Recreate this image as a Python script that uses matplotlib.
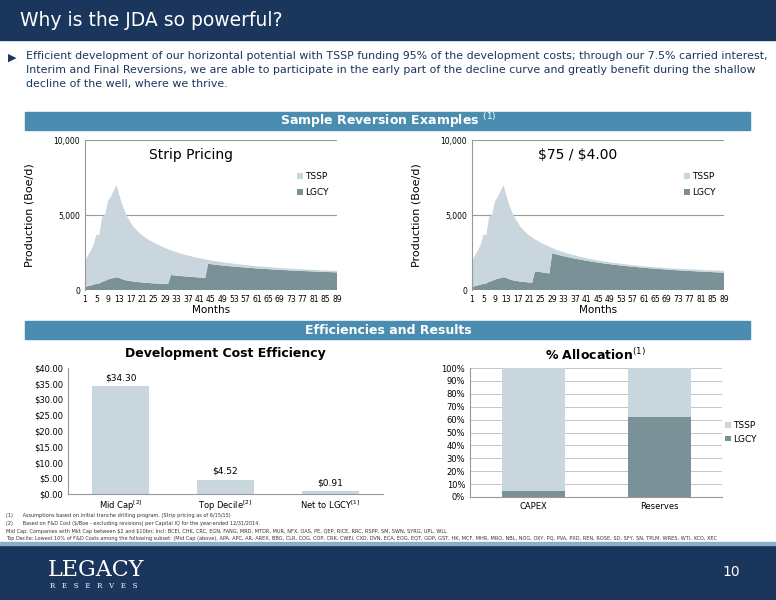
import numpy as np
import matplotlib.pyplot as plt
from matplotlib.patches import Rectangle

# Production profile (Boe/d), months 1..89
months = list(range(1, 90))
total_prod = [1900, 2300, 2600, 3000, 3700, 3650, 4900, 5000, 5900, 6200, 6600, 7000,
              6300, 5700, 5200, 4800, 4500, 4200, 4000, 3800,
              3650, 3500, 3380, 3270, 3160, 3060, 2970, 2880, 2800, 2720,
              2650, 2580, 2520, 2460, 2400, 2350, 2300, 2250, 2200, 2160,
              2120, 2080, 2040, 2000, 1970, 1940, 1910, 1880, 1850, 1820,
              1800, 1775, 1750, 1725, 1700, 1680, 1660, 1640, 1620, 1600,
              1585, 1570, 1555, 1540, 1525, 1510, 1495, 1480, 1465, 1450,
              1440, 1430, 1420, 1410, 1400, 1390, 1380, 1370, 1360, 1350,
              1340, 1330, 1320, 1312, 1305, 1298, 1290, 1283, 1275]
lgcy_early = [200, 250, 300, 350, 420, 430, 550, 600, 700, 750, 800, 850]
lgcy_strip = lgcy_early + [800, 720, 660, 620, 590, 560, 540, 520,
                           500, 485, 470, 455, 440, 430, 420, 410, 400, 390,
                           1000, 980, 960, 940, 925, 910, 895, 880, 865, 850, 835, 820, 805,
                           1750, 1725, 1700, 1678, 1656, 1635, 1615, 1596, 1578, 1560,
                           1543, 1527, 1511, 1496, 1481, 1467, 1453, 1440, 1427, 1414,
                           1402, 1390, 1378, 1367, 1356, 1345, 1335, 1325, 1315, 1305,
                           1296, 1287, 1278, 1269, 1260, 1252, 1244, 1236, 1228, 1220,
                           1212, 1205, 1198, 1191, 1184, 1177]
lgcy_75 = lgcy_early + [800, 720, 660, 620, 590, 560, 540, 520, 500, 480,
                        1250, 1220, 1190, 1160, 1130, 1100,
                        2450, 2400, 2350, 2300, 2255, 2210, 2170, 2130, 2090, 2055,
                        2020, 1985, 1952, 1920, 1890, 1860, 1830, 1802, 1775, 1750,
                        1725, 1700, 1677, 1655, 1633, 1612, 1592, 1572, 1553, 1535,
                        1517, 1500, 1483, 1467, 1451, 1436, 1421, 1406, 1392, 1378,
                        1365, 1352, 1339, 1327, 1315, 1303, 1292, 1281, 1270, 1259,
                        1249, 1239, 1229, 1219, 1209, 1200, 1191, 1182, 1173, 1164, 1155]

cost_labels = ['Mid Cap', 'Top Decile', 'Net to LGCY']
cost_sups = ['[2]', '[2]', '[1]']
cost_values = [34.30, 4.52, 0.91]

alloc_cats = ['CAPEX', 'Reserves']
alloc_lgcy = [5, 62]
alloc_tssp = [95, 38]

NAVY = '#1b365d'
BAND = '#4a8db0'
TSSP_C = '#c9d6dd'
LGCY_C = '#7a9297'

fig = plt.figure(figsize=(7.76, 6), dpi=100)
fig.patch.set_facecolor('white')

def px(x, y, w, h):
    return [x / 776, 1 - (y + h) / 600, w / 776, h / 600]

# header / footer
fig.patches.append(Rectangle((0, 1 - 40 / 600), 1, 40 / 600, transform=fig.transFigure, color=NAVY))
fig.text(20 / 776, 1 - 21 / 600, 'Why is the JDA so powerful?', color='white', fontsize=13.5, va='center')
fig.patches.append(Rectangle((0, 0), 1, 55 / 600, transform=fig.transFigure, color=NAVY))
fig.patches.append(Rectangle((0, 55 / 600), 1, 3 / 600, transform=fig.transFigure, color='#8ab0c8'))
fig.text(48 / 776, 30 / 600, 'LEGACY', color='white', fontsize=16, family='DejaVu Serif', va='center')
fig.text(50 / 776, 14 / 600, 'R   E   S   E   R   V   E   S', color='white', fontsize=5, family='DejaVu Serif', va='center')
fig.text(722 / 776, 28 / 600, '10', color='white', fontsize=10, va='center')

fig.text(8 / 776, 1 - 58 / 600, '\u25b6', color=NAVY, fontsize=8, va='center', family='DejaVu Sans')
fig.text(26 / 776, 1 - 51 / 600,
         'Efficient development of our horizontal potential with TSSP funding 95% of the development costs; through our 7.5% carried interest,\n'
         'Interim and Final Reversions, we are able to participate in the early part of the decline curve and greatly benefit during the shallow\n'
         'decline of the well, where we thrive.',
         color=NAVY, fontsize=7.9, va='top', linespacing=1.5)

for y, txt in [(112, 'Sample Reversion Examples $^{(1)}$'), (321, 'Efficiencies and Results')]:
    fig.patches.append(Rectangle((25 / 776, 1 - (y + 18) / 600), 725 / 776, 18 / 600,
                                 transform=fig.transFigure, color=BAND))
    fig.text(0.5, 1 - (y + 9) / 600, txt, color='white', fontsize=9, weight='bold', ha='center', va='center')

# production charts
for (x0, lg, title) in [(85, lgcy_strip, 'Strip Pricing'), (472, lgcy_75, '$75 / $4.00')]:
    ax = fig.add_axes(px(x0, 140, 252, 150))
    tssp = np.array(total_prod) - np.array(lg)
    ax.stackplot(months, lg, tssp, colors=[LGCY_C, TSSP_C], labels=['LGCY', 'TSSP'])
    ax.set_xlim(1, 89)
    ax.set_ylim(0, 10000)
    ax.set_yticks([0, 5000, 10000])
    ax.set_yticklabels(['0', '5,000', '10,000'])
    ax.set_xticks(range(1, 90, 4))
    ax.tick_params(labelsize=5.5, length=0)
    ax.grid(axis='y', color='#999999', lw=0.8)
    ax.set_axisbelow(True)
    for s in ['top', 'right', 'bottom']:
        ax.spines[s].set_visible(False)
    ax.spines['left'].set_color('#999999')
    ax.set_xlabel('Months', fontsize=7.5, labelpad=1)
    ax.set_ylabel('Production (Boe/d)', fontsize=8, labelpad=14)
    ax.text(0.42, 0.9, title.replace('$', r'\$'), transform=ax.transAxes, ha='center', va='center', fontsize=10)
    h, l = ax.get_legend_handles_labels()
    ax.legend(h[::-1], l[::-1], loc='upper right', bbox_to_anchor=(1.0, 0.84), frameon=False,
              fontsize=6.5, handlelength=0.6, handleheight=0.6, handletextpad=0.3, labelspacing=0.8)

# cost chart
ax = fig.add_axes(px(68, 368, 315, 126))
xb = np.arange(len(cost_values))
ax.bar(xb, cost_values, width=0.55, color=TSSP_C)
for xi, v in zip(xb, cost_values):
    ax.text(xi, v + 1.2, f'${v:.2f}', ha='center', va='bottom', fontsize=6.5)
ax.set_ylim(0, 40)
ax.set_xlim(-0.5, 2.5)
ax.set_yticks(range(0, 41, 5))
ax.set_yticklabels([f'${v:.2f}' for v in range(0, 41, 5)])
ax.set_xticks(xb)
ax.set_xticklabels([f'{a}$^{{{b}}}$' for a, b in zip(cost_labels, cost_sups)])
ax.tick_params(labelsize=6, length=0)
for s in ['top', 'right']:
    ax.spines[s].set_visible(False)
ax.spines['left'].set_color('#999999')
ax.spines['bottom'].set_color('#999999')
ax.set_title('Development Cost Efficiency', fontsize=9, weight='bold', pad=8)

# allocation chart
ax = fig.add_axes(px(470, 368, 252, 129))
xa = np.arange(len(alloc_cats))
ax.bar(xa, alloc_lgcy, width=0.5, color=LGCY_C, label='LGCY')
ax.bar(xa, alloc_tssp, width=0.5, bottom=alloc_lgcy, color=TSSP_C, label='TSSP')
ax.set_ylim(0, 100)
ax.set_xlim(-0.5, 1.5)
ax.set_yticks(range(0, 101, 10))
ax.set_yticklabels([f'{v}%' for v in range(0, 101, 10)])
ax.set_xticks(xa)
ax.set_xticklabels(alloc_cats)
ax.tick_params(labelsize=6, length=0)
ax.grid(axis='y', color='#bbbbbb', lw=0.6)
ax.set_axisbelow(True)
for s in ['top', 'right']:
    ax.spines[s].set_visible(False)
ax.spines['left'].set_color('#999999')
ax.spines['bottom'].set_color('#999999')
h, l = ax.get_legend_handles_labels()
ax.legend(h[::-1], l[::-1], loc='center left', bbox_to_anchor=(0.98, 0.5), frameon=False,
          fontsize=6.5, handlelength=0.6, handleheight=0.6, handletextpad=0.3)
ax.set_title('% Allocation$^{(1)}$', fontsize=9, weight='bold', pad=6)

notes = ['(1)      Assumptions based on initial tranche drilling program. (Strip pricing as of 6/15/15)',
         '(2)      Based on F&D Cost ($/Boe - excluding revisions) per Capital IQ for the year-ended 12/31/2014.',
         'Mid Cap: Companies with Mkt Cap between $2 and $10bn; Incl: BCEI, CHK, CRC, EGN, FANG, MRD, MTDR, MUR, NFX, OAS, PE, QEP, RICE, RRC, RSPP, SM, SWN, SYRG, UPL, WLL',
         'Top Decile: Lowest 10% of F&D Costs among the following subset: (Mid Cap (above), APA, APC, AR, AREX, BBG, CLR, COG, COP, CRK, CWEI, CXO, DVN, ECA, EOG, EQT, GDP, GST, HK, MCF, MHR, MRO, NBL, NOG, OXY, PQ, PVA, PXD, REN, ROSE, SD, SFY, SN, TPLM, WRES, WTI, XCO, XEC']
for i, t in enumerate(notes):
    fig.text(6 / 776, 1 - (516 + i * 7.5) / 600, t.replace('$', r'\$'), fontsize=3.6, va='center', color='#333333')

fig.savefig('out.png', dpi=100)
